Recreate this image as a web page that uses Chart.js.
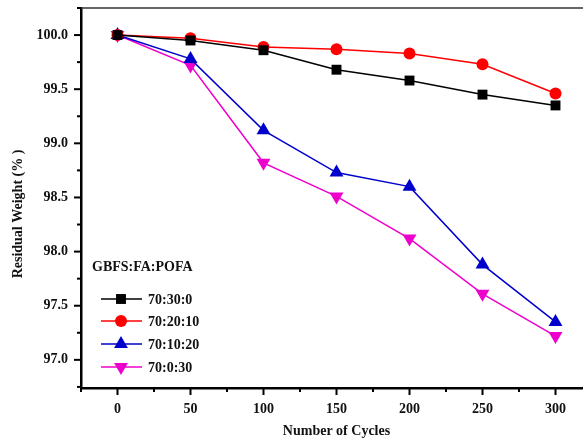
<!DOCTYPE html>
<html>
<head>
<meta charset="utf-8">
<script src="https://cdn.jsdelivr.net/npm/chart.js@4/dist/chart.umd.min.js"></script>
<style>
  html, body { margin: 0; padding: 0; background: #fff; overflow: hidden; }
  #wrap { width: 600px; height: 442px; position: relative; }
</style>
</head>
<body>
<div id="wrap"><canvas id="c"></canvas></div>
<script>
// --- data ---
const cycles = [0, 50, 100, 150, 200, 250, 300];
const seriesNames = ['70:30:0', '70:20:10', '70:10:20', '70:0:30'];
const w_70_30_0  = [100.0, 99.95, 99.86, 99.68, 99.58, 99.45, 99.35];
const w_70_20_10 = [100.0, 99.97, 99.89, 99.87, 99.83, 99.73, 99.46];
const w_70_10_20 = [100.0, 99.78, 99.12, 98.73, 98.60, 97.88, 97.35];
const w_70_0_30  = [100.0, 99.72, 98.82, 98.51, 98.12, 97.61, 97.22];
const xTicksMajor = [0, 50, 100, 150, 200, 250, 300];
const xTicksMinor = [-25, 25, 75, 125, 175, 225, 275, 325];
const yTicksMajor = [97.0, 97.5, 98.0, 98.5, 99.0, 99.5, 100.0];
const yTicksMinor = [96.75, 97.25, 97.75, 98.25, 98.75, 99.25, 99.75, 100.25];
const legendTitle = 'GBFS:FA:POFA';
const xTitle = 'Number of Cycles';
const yTitle = 'Residual Weight (% )';

const FONT = '"Liberation Serif", "Times New Roman", serif';

const styles = [
  { color: '#000000', point: 'rect', radius: 7, rot: 0 },
  { color: '#ff0000', point: 'circle', radius: 6, rot: 0 },
  { color: '#0000cc', point: 'triangle', radius: 8, rot: 0 },
  { color: '#ee00cc', point: 'triangle', radius: 8, rot: 180 }
];
const allSeries = [w_70_30_0, w_70_20_10, w_70_10_20, w_70_0_30];

const datasets = allSeries.map((vals, i) => ({
  label: seriesNames[i],
  data: cycles.map((c, k) => ({ x: c, y: vals[k] })),
  borderColor: styles[i].color,
  backgroundColor: styles[i].color,
  borderWidth: 1.5,
  pointStyle: styles[i].point,
  pointRadius: styles[i].radius,
  pointRotation: styles[i].rot,
  pointBorderWidth: 0,
  pointHoverRadius: styles[i].radius,
  tension: 0
}));

// ticks, frame, legend and y title drawn with the chart's scales
const extras = {
  id: 'extras',
  afterDraw(chart) {
    const ctx = chart.ctx;
    const xs = chart.scales.x, ys = chart.scales.y;
    const a = chart.chartArea;
    ctx.save();
    // top frame line
    ctx.lineWidth = 1.5;
    ctx.strokeStyle = '#333';
    ctx.beginPath(); ctx.moveTo(a.left, a.top); ctx.lineTo(a.right, a.top); ctx.stroke();
    ctx.strokeStyle = '#000';
    ctx.lineWidth = 2;
    // x ticks
    xTicksMajor.forEach(v => {
      const px = xs.getPixelForValue(v);
      ctx.beginPath(); ctx.moveTo(px, a.bottom); ctx.lineTo(px, a.bottom + 7); ctx.stroke();
    });
    xTicksMinor.forEach(v => {
      const px = xs.getPixelForValue(v);
      ctx.beginPath(); ctx.moveTo(px, a.bottom); ctx.lineTo(px, a.bottom + 4); ctx.stroke();
    });
    // y ticks
    yTicksMajor.forEach(v => {
      const py = ys.getPixelForValue(v);
      ctx.beginPath(); ctx.moveTo(a.left, py); ctx.lineTo(a.left - 7, py); ctx.stroke();
    });
    yTicksMinor.forEach(v => {
      const py = ys.getPixelForValue(v);
      ctx.beginPath(); ctx.moveTo(a.left, py); ctx.lineTo(a.left - 4, py); ctx.stroke();
    });

    // y title
    ctx.font = 'bold 14px ' + FONT;
    ctx.fillStyle = '#111';
    ctx.textAlign = 'center';
    ctx.textBaseline = 'middle';
    ctx.save();
    ctx.translate(18, 214);
    ctx.rotate(-Math.PI / 2);
    ctx.fillText(yTitle, 0, 0);
    ctx.restore();

    // legend inside plot
    ctx.textAlign = 'left';
    ctx.fillText(legendTitle, 92, 267);
    const rows = [299, 321, 344, 367];
    chart.data.datasets.forEach((ds, i) => {
      const y = rows[i];
      ctx.strokeStyle = ds.borderColor;
      ctx.lineWidth = 1.5;
      ctx.beginPath(); ctx.moveTo(101, y); ctx.lineTo(142, y); ctx.stroke();
      ctx.fillStyle = ds.backgroundColor;
      Chart.helpers.drawPoint(ctx, {
        pointStyle: ds.pointStyle, radius: ds.pointRadius, rotation: ds.pointRotation, borderWidth: 0
      }, 121, y);
      ctx.fillStyle = '#111';
      ctx.fillText(ds.label, 148, y + 1);
    });
    ctx.restore();
  }
};

new Chart(document.getElementById('c'), {
  type: 'line',
  data: { datasets },
  plugins: [extras],
  options: {
    responsive: true,
    maintainAspectRatio: false,
    animation: false,
    layout: { padding: { top: 8, right: 8, left: 0, bottom: 0 } },
    plugins: { legend: { display: false }, tooltip: { enabled: false } },
    scales: {
      x: {
        type: 'linear',
        min: -25, max: 325,
        afterBuildTicks: s => { s.ticks = xTicksMajor.map(v => ({ value: v })); },
        afterFit: s => { s.height = 54; s.paddingLeft = 0; s.paddingRight = 0; },
        grid: { display: false, drawTicks: false },
        border: { display: true, color: '#000', width: 2.5 },
        ticks: {
          color: '#111', padding: 13,
          font: { family: FONT, size: 14, weight: 'bold' },
          callback: v => String(v)
        },
        title: {
          display: true, text: xTitle, color: '#111',
          font: { family: FONT, size: 14, weight: 'bold' },
          padding: { top: 0, bottom: 2 }
        }
      },
      y: {
        type: 'linear',
        min: 96.74, max: 100.25,
        afterBuildTicks: s => { s.ticks = yTicksMajor.map(v => ({ value: v })); },
        afterFit: s => { s.width = 81; s.paddingTop = 0; s.paddingBottom = 0; },
        grid: { display: false, drawTicks: false },
        border: { display: true, color: '#000', width: 2.5 },
        ticks: {
          color: '#111', padding: 13,
          font: { family: FONT, size: 14, weight: 'bold' },
          callback: v => Number(v).toFixed(1)
        }
      }
    }
  }
});
</script>
</body>
</html>
